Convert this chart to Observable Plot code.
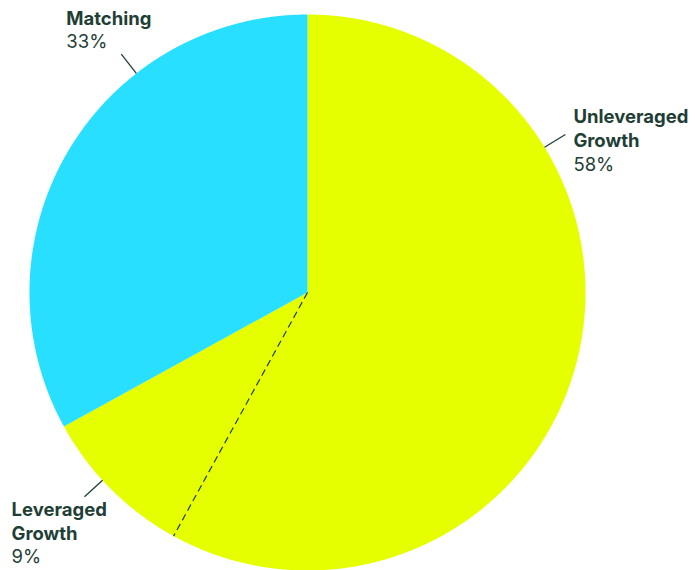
<!DOCTYPE html>
<html><head><meta charset="utf-8">
<script src="https://cdn.jsdelivr.net/npm/d3@7"></script>
<script src="https://cdn.jsdelivr.net/npm/@observablehq/plot@0.6"></script>
<style>body{margin:0;background:#fff}#chart svg{display:block}</style>
</head><body><div id="chart"></div>
<script>
// ---- data ----
const categories = ["Unleveraged Growth", "Leveraged Growth", "Matching"];
const shares = [58, 9, 33];
const nameLabels = ["Unleveraged\nGrowth", "Leveraged\nGrowth", "Matching"];
const pctLabels = ["58%", "9%", "33%"];
const sliceColors = ["#e5ff00", "#e5ff00", "#29dfff"];

// ---- layout ----
const W = 695, H = 570, R = 278, CX = 307, CY = 292;
const INK = "#1f3f36";
const FS = 18.5, LH = 24 / 18.5;
// leader angle (deg, clockwise from 12 o'clock), text offsets from leader end (px)
const labelLayout = [
  {angle: 58.5, dx: 8, nameDy: 12.7, pctDy: 37},
  {angle: 227.5, dx: -73, nameDy: 43, pctDy: 66.5},
  {angle: 322, dx: -55, nameDy: -29.3, pctDy: -5.7}
];

const pie = d3.pie().sort(null).value(d => d)(shares);
const rad = a => a * Math.PI / 180;

// slice polygons in unit (radius = 1) space
const slicePts = [];
pie.forEach((p, i) => {
  slicePts.push({x: 0, y: 0, k: i});
  const n = Math.max(2, Math.ceil((p.endAngle - p.startAngle) / rad(0.25)));
  for (let j = 0; j <= n; j++) {
    const a = p.startAngle + (p.endAngle - p.startAngle) * j / n;
    slicePts.push({x: Math.sin(a), y: Math.cos(a), k: i});
  }
  slicePts.push({x: 0, y: 0, k: i});
});

// dashed divider between the two growth slices
const divA = pie[0].endAngle;
const divider = [{x1: 0, y1: 0, x2: Math.sin(divA), y2: Math.cos(divA)}];

const leaders = labelLayout.map(l => ({
  x1: Math.sin(rad(l.angle)), y1: Math.cos(rad(l.angle)),
  x2: 1.088 * Math.sin(rad(l.angle)), y2: 1.088 * Math.cos(rad(l.angle))
}));
const labels = labelLayout.map((l, i) => ({
  name: nameLabels[i], pct: pctLabels[i],
  x: leaders[i].x2 + l.dx / R,
  yName: leaders[i].y2 - l.nameDy / R,
  yPct: leaders[i].y2 - l.pctDy / R
}));

const chart = Plot.plot({
  width: W, height: H,
  margin: 0,
  x: {domain: [-CX / R, (W - CX) / R], axis: null},
  y: {domain: [-(H - CY) / R, CY / R], axis: null},
  style: {fontFamily: "Inter, 'Noto Sans', sans-serif", background: "#fff"},
  marks: [
    Plot.line(slicePts, {x: "x", y: "y", z: "k", fill: d => sliceColors[d.k], stroke: "none", curve: "linear"}),
    Plot.link(divider, {x1: "x1", y1: "y1", x2: "x2", y2: "y2", stroke: INK, strokeWidth: 1.2, strokeDasharray: "7,4"}),
    Plot.link(leaders, {x1: "x1", y1: "y1", x2: "x2", y2: "y2", stroke: INK, strokeWidth: 1.3}),
    Plot.text(labels, {x: "x", y: "yName", text: "name", textAnchor: "start", lineAnchor: "bottom", lineHeight: LH,
      fontSize: FS, fontWeight: 700, fill: INK}),
    Plot.text(labels, {x: "x", y: "yPct", text: "pct", textAnchor: "start", lineAnchor: "bottom",
      fontSize: FS, fontWeight: 400, fill: INK})
  ]
});
document.getElementById("chart").append(chart);
</script>
</body></html>
